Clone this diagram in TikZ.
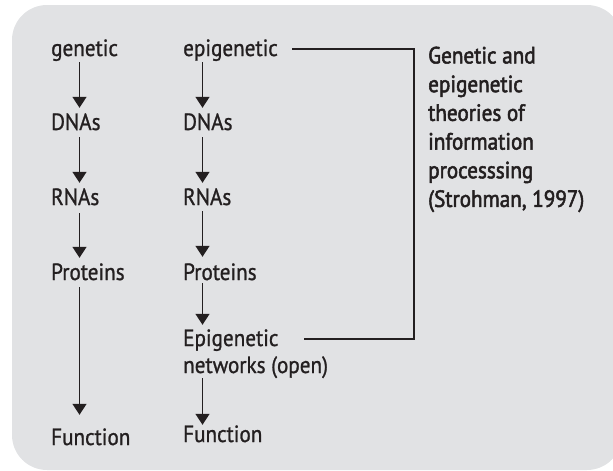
\documentclass[tikz,border=0pt]{standalone}
\usepackage{fontspec}
\setmainfont[FakeStretch=0.9,FakeBold=1]{PT Sans}
\newfontfamily\medfont[FakeStretch=0.9,FakeBold=2.2]{PT Sans}
\usetikzlibrary{arrows.meta}
\definecolor{bgc}{RGB}{225,226,228}
\definecolor{ink}{RGB}{35,31,32}
\begin{document}
\begin{tikzpicture}[x=1pt,y=-1pt,
  lbl/.style={anchor=base west, inner sep=0pt, text height=14pt, text depth=0pt, font=\fontsize{23.5}{28}\selectfont, text=ink},
  arr/.style={draw=ink, line width=1.4pt, -{Triangle[width=14pt,length=11pt]}},
  brkline/.style={draw=ink, line width=1.4pt},
]
\useasboundingbox (0,0) rectangle (613,471);
\begin{scope}
\clip (0,0) rectangle (613,471);
\fill[bgc, rounded corners=35pt] (12,5) rectangle (622,470);
\end{scope}

\coordinate (X1) at (79.5,0);
\coordinate (X2) at (202.5,0);
\coordinate (B) at (414,0);
\coordinate (S1) at (292,0);
\coordinate (S2) at (304,0);

\node[lbl] (g0) at (51,56) {genetic};
\node[lbl] (g1) at (51,130) {DNAs};
\node[lbl] (g2) at (51,205) {RNAs};
\node[lbl] (g3) at (51,280) {Proteins};
\node[lbl] (g4) at (51,445) {Function};

\node[lbl] (e0) at (183,56) {epigenetic};
\node[lbl] (e1) at (183,130) {DNAs};
\node[lbl] (e2) at (183,205) {RNAs};
\node[lbl] (e3) at (183,280) {Proteins};
\node[lbl] (e4) at (183,346) {Epigenetic};
\node[lbl] (e5) at (183,373) {networks (open)};
\node[lbl] (e6) at (183,442) {Function};

\node[anchor=north west, inner sep=0pt, align=left, text=ink,
      font=\medfont\fontsize{23.5}{28.7}\selectfont] (t) at (428,46.5)
  {Genetic and\\epigenetic\\theories of\\information\\processsing\\(Strohman, 1997)};

\draw[arr, shorten <=6pt, shorten >=8pt] (g0.south -| X1) -- (g1.north -| X1);
\draw[arr, shorten <=7pt, shorten >=8pt] (g1.south -| X1) -- (g2.north -| X1);
\draw[arr, shorten <=8pt, shorten >=8pt] (g2.south -| X1) -- (g3.north -| X1);
\draw[arr, shorten <=7pt, shorten >=16pt] (g3.south -| X1) -- (g4.north -| X1);

\draw[arr, shorten <=6pt, shorten >=8pt] (e0.south -| X2) -- (e1.north -| X2);
\draw[arr, shorten <=7pt, shorten >=8pt] (e1.south -| X2) -- (e2.north -| X2);
\draw[arr, shorten <=6pt, shorten >=9pt] (e2.south -| X2) -- (e3.north -| X2);
\draw[arr, shorten <=3pt, shorten >=7pt] (e3.south -| X2) -- (e4.north -| X2);
\draw[arr, shorten <=5pt, shorten >=3pt] (e5.south -| X2) -- (e6.north -| X2);

\draw[brkline] (e0.east -| S1) -- (e0.east -| B) -- (e4.east -| B) -- (e4.east -| S2);
\end{tikzpicture}
\end{document}
